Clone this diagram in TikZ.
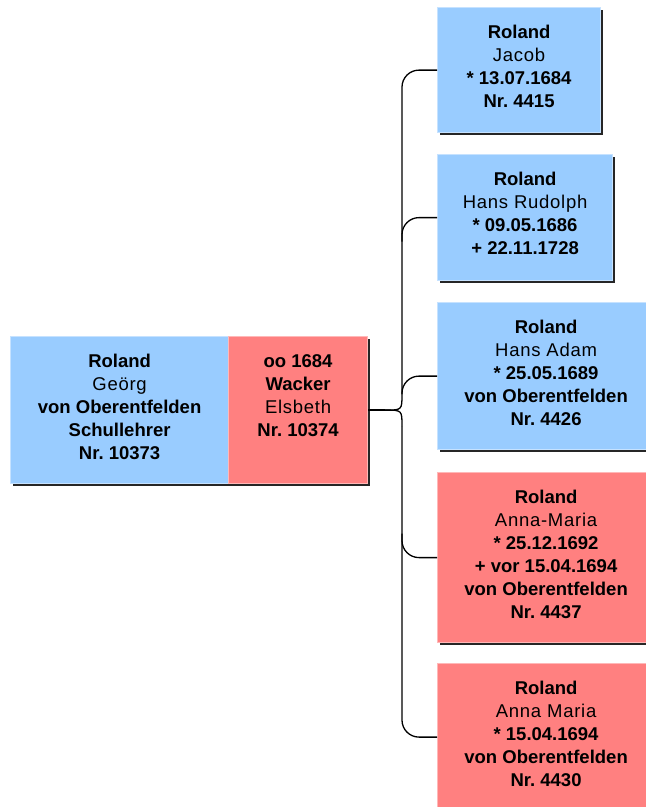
\documentclass[tikz,border=0pt]{standalone}
\usepackage{fontspec}
\setmainfont{Liberation Sans}
\newfontfamily\givenfont[LetterSpace=4]{Liberation Sans}
\frenchspacing
\usetikzlibrary{shadows}
\definecolor{manblue}{HTML}{99CCFF}
\definecolor{womanred}{HTML}{FF8080}
\definecolor{manrim}{HTML}{C6E2FF}
\definecolor{womanrim}{HTML}{FFB8B8}
\newcommand{\given}[1]{{\givenfont #1}}
\tikzset{
  person/.style={anchor=north west, inner sep=0pt, align=center,
    font=\fontsize{18.5}{23}\selectfont, line width=1.2pt,
    drop shadow={shadow xshift=2.5pt, shadow yshift=-2.5pt, fill=black!85, opacity=1}},
  man/.style={person, fill=manblue, draw=manrim},
  woman/.style={person, fill=womanred, draw=womanrim},
  lines4/.style={text height=99.5pt},
  lines5/.style={text height=122.5pt},
  lines6/.style={text height=145.5pt},
  link/.style={line width=1.3pt, black}
}
\begin{document}
\begin{tikzpicture}[x=1pt,y=-1pt]
    \fill[white] (0,0) rectangle (646,807);
    \useasboundingbox (0,0) rectangle (646,807);
    \clip (0,0) rectangle (646,807);
    \coordinate (Spine) at (402,0);
    % parents
    \node[man, lines5, minimum width=218pt, text depth=24.5pt] (Father) at (10,336)
      {\textbf{Roland}\\\given{Geörg}\\\textbf{von Oberentfelden}\\\textbf{Schullehrer}\\\textbf{Nr. 10373}};
    \node[woman, lines4, minimum width=139pt, text depth=47.5pt] (Mother) at (228,336)
      {\textbf{oo 1684}\\\textbf{Wacker}\\\given{Elsbeth}\\\textbf{Nr. 10374}};
    % children
    \node[man, lines4, minimum width=163pt, text depth=25.5pt] (Jacob) at (437,7)
      {\textbf{Roland}\\\given{Jacob}\\\textbf{* 13.07.1684}\\\textbf{Nr. 4415}};
    \node[man, lines4, minimum width=175pt, text depth=26.5pt] (HansRudolph) at (437,154)
      {\textbf{Roland}\\\given{Hans Rudolph}\\\textbf{* 09.05.1686}\\\textbf{+ 22.11.1728}};
    \node[man, lines5, minimum width=217pt, text depth=24.5pt] (HansAdam) at (437,302)
      {\textbf{Roland}\\\given{Hans Adam}\\\textbf{* 25.05.1689}\\\textbf{von Oberentfelden}\\\textbf{Nr. 4426}};
    \node[woman, lines6, minimum width=217pt, text depth=24.5pt] (AnnaMaria) at (437,472)
      {\textbf{Roland}\\\given{Anna-Maria}\\\textbf{* 25.12.1692}\\\textbf{+ vor 15.04.1694}\\\textbf{von Oberentfelden}\\\textbf{Nr. 4437}};
    \node[woman, lines5, minimum width=217pt, text depth=24.5pt] (AnnaMariaII) at (437,663)
      {\textbf{Roland}\\\given{Anna Maria}\\\textbf{* 15.04.1694}\\\textbf{von Oberentfelden}\\\textbf{Nr. 4430}};
    % connectors
    \draw[link] (Mother.east) -- ++(17,0) coordinate (Fork);
    \coordinate (ForkUp) at ([yshift=16pt]Fork -| Spine);
    \coordinate (ForkDown) at ([yshift=-16pt]Fork -| Spine);
    \draw[link] (Fork) .. controls (Fork -| Spine) .. (ForkUp);
    \draw[link] (Fork) .. controls (Fork -| Spine) .. (ForkDown);
    \draw[link,rounded corners=17pt] (Jacob.west) -- (Jacob.west -| Spine) -- (ForkUp);
    \draw[link,rounded corners=17pt] (HansRudolph.west) -- (HansRudolph.west -| Spine) -- ++(0,24);
    \draw[link,rounded corners=17pt] (HansAdam.west) -- (HansAdam.west -| Spine) -- (ForkUp);
    \draw[link,rounded corners=17pt] (ForkDown) -- (AnnaMariaII.west -| Spine) -- (AnnaMariaII.west);
    \draw[link,rounded corners=17pt] (AnnaMaria.west) -- (AnnaMaria.west -| Spine) -- ++(0,-24);
\end{tikzpicture}
\end{document}
